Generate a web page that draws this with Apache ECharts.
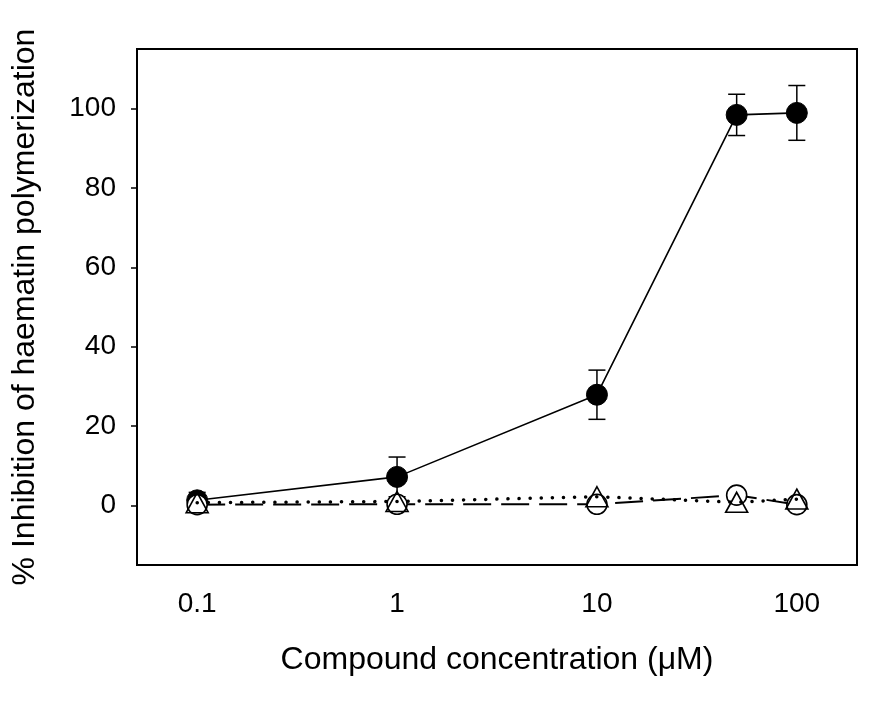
<!DOCTYPE html>
<html>
<head>
<meta charset="utf-8">
<script src="https://cdn.jsdelivr.net/npm/echarts@6/dist/echarts.min.js"></script>
<style>
html,body{margin:0;padding:0;background:#fff;}
#chart{width:893px;height:710px;}
</style>
</head>
<body>
<div id="chart"></div>
<script>
// Data
const concentrations = [0.1, 1, 10, 50, 100];
const activeMean = [1.3, 7.2, 27.9, 98.4, 98.9];
const activeErr = [2.0, 5.0, 6.2, 5.2, 6.9];
const openCircleMean = [0.2, 0.3, 0.3, 2.6, 0.2];
const openTriangleMean = [0.7, 1.0, 2.2, 0.8, 1.6];
const xTicks = [0.1, 1, 10, 100];
const yTicks = [0, 20, 40, 60, 80, 100];
const xTitle = 'Compound concentration (\u03bcM)';
const yTitle = '% Inhibition of haematin polymerization';

const pairs = (ys) => concentrations.map((c, i) => [c, ys[i]]);
const errData = concentrations.map((c, i) => [c, activeMean[i] - activeErr[i], activeMean[i] + activeErr[i]]);

const FONT = 'Liberation Sans, Arial, sans-serif';
const chart = echarts.init(document.getElementById('chart'), null, {renderer: 'canvas'});
chart.setOption({
  animation: false,
  backgroundColor: '#fff',
  grid: {left: 137, right: 36, top: 49, bottom: 145, show: true, borderColor: '#000', borderWidth: 2, backgroundColor: 'transparent'},
  xAxis: {
    type: 'log', logBase: 10, min: 0.05, max: 200,
    name: xTitle, nameLocation: 'middle', nameGap: 76,
    nameTextStyle: {fontFamily: FONT, fontSize: 32, color: '#000'},
    offset: 3,
    axisLine: {show: false},
    axisTick: {show: true, length: 7, inside: false, customValues: xTicks, lineStyle: {color: '#000', width: 1.5}},
    axisLabel: {customValues: xTicks, fontFamily: FONT, fontSize: 28, color: '#000', margin: 22,
      formatter: (v) => String(+(+v).toPrecision(6))},
    splitLine: {show: false}
  },
  yAxis: {
    type: 'value', min: -15, max: 115,
    name: yTitle, nameLocation: 'middle', nameGap: 96,
    nameTextStyle: {fontFamily: FONT, fontSize: 32, color: '#000'},
    axisLine: {show: false},
    axisTick: {show: true, length: 6, inside: false, customValues: yTicks, lineStyle: {color: '#000', width: 1.5}},
    axisLabel: {customValues: yTicks, fontFamily: FONT, fontSize: 28, color: '#000', margin: 21},
    splitLine: {show: false}
  },
  series: [
    {
      type: 'custom', name: 'err', z: 2,
      data: errData,
      encode: {x: 0, y: [1, 2]},
      renderItem: function (params, api) {
        const x = api.value(0);
        const lo = api.coord([x, api.value(1)]);
        const hi = api.coord([x, api.value(2)]);
        const hw = 8.5;
        const style = {stroke: '#000', lineWidth: 1.5, fill: null};
        return {type: 'group', children: [
          {type: 'line', shape: {x1: lo[0], y1: lo[1], x2: hi[0], y2: hi[1]}, style: style},
          {type: 'line', shape: {x1: lo[0] - hw, y1: lo[1], x2: lo[0] + hw, y2: lo[1]}, style: style},
          {type: 'line', shape: {x1: hi[0] - hw, y1: hi[1], x2: hi[0] + hw, y2: hi[1]}, style: style}
        ]};
      }
    },
    {
      type: 'line', name: 'active', z: 3,
      data: pairs(activeMean),
      symbol: 'circle', symbolSize: 21,
      itemStyle: {color: '#000', borderColor: '#000', borderWidth: 1},
      lineStyle: {color: '#000', width: 1.6, type: 'solid'}
    },
    {
      type: 'line', name: 'circles', z: 4,
      data: pairs(openCircleMean),
      symbol: 'circle', symbolSize: 20,
      itemStyle: {color: '#fff', borderColor: '#000', borderWidth: 1.6},
      lineStyle: {color: '#000', width: 2, type: [28, 10]}
    },
    {
      type: 'line', name: 'triangles', z: 5,
      data: pairs(openTriangleMean),
      symbol: 'triangle', symbolSize: [22, 20],
      itemStyle: {color: 'rgba(255,255,255,0)', borderColor: '#000', borderWidth: 1.6},
      lineStyle: {color: '#000', width: 3.5, type: [0.1, 11], cap: 'round'}
    }
  ]
});
</script>
</body>
</html>
